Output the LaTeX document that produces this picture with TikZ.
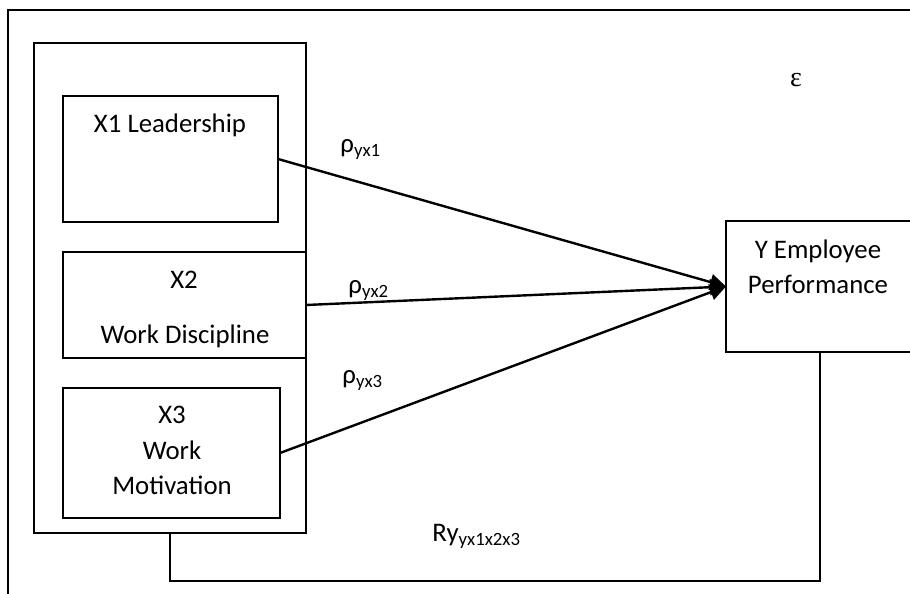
\documentclass[tikz,border=0pt]{standalone}
\usepackage{fontspec}
\setmainfont{Carlito}
\newfontfamily\serifgreek{Liberation Serif}
\usetikzlibrary{arrows.meta}
\begin{document}
\begin{tikzpicture}[x=0.5pt,y=-0.5pt,
  box/.style={draw,line width=0.8pt,inner sep=0pt,outer sep=0pt},
  lbl/.style={inner sep=0pt,anchor=base,font=\fontsize{13.4}{16.5}\selectfont},
  sym/.style={inner sep=0pt,anchor=base west,font=\fontsize{13.4}{16.5}\selectfont},
  path/.style={line width=1.2pt,-{Triangle[length=8pt,width=8pt]}},
  link/.style={line width=0.8pt}]
\useasboundingbox (0,0) rectangle (910,594);
% outer frame
\coordinate (fbl) at (8,600);
\coordinate (ftl) at (8,9.5);
\coordinate (ftr) at (915,9.5);
\draw[line width=1pt] (fbl) -- (ftl) -- (ftr);
% boxes
\node[box,minimum width=136pt,minimum height=245pt] (big) at (170,288) {};
\node[box,minimum width=107.5pt,minimum height=63pt] (x1) at (170.5,159) {};
\node[box,minimum width=121.5pt,minimum height=53pt] (x2) at (184.5,305) {};
\node[box,minimum width=108.5pt,minimum height=65pt] (x3) at (171.5,453) {};
\node[box,minimum width=94pt,minimum height=65.5pt] (y) at (820,286.5) {};
% texts
\node[lbl] (t1) at (170,132) {X1 Leadership};
\node[lbl] (t2a) at (184,288) {X2};
\node[lbl] (t2b) at (185,343) {Work Discipline};
\node[lbl] (t3a) at (172,423) {X3};
\node[lbl] (t3b) at (172,459) {Work};
\node[lbl] (t3c) at (172,494) {Motivation};
\node[lbl] (ty1) at (818,258) {Y Employee};
\node[lbl] (ty2) at (818,293) {Performance};
% arrows
\draw[path] (x1.east) -- (y.west);
\draw[path] (x2.east) -- (y.west);
\draw[path] (x3.east) -- (y.west);
% bottom link
\draw[link] (big.south) -- ++(0,48) -| (y.south);
% labels
\node[sym] (r1) at (340,152) {ρ\textsubscript{yx1}};
\node[sym] (r2) at (348,293) {ρ\textsubscript{yx2}};
\node[sym] (r3) at (342,383) {ρ\textsubscript{yx3}};
\node[lbl,font=\serifgreek\fontsize{14}{16.5}\selectfont] (eps) at (796,86) {ε};
\node[sym] (ry) at (432,541) {Ry\textsubscript{yx1x2x3}};
\end{tikzpicture}
\end{document}
